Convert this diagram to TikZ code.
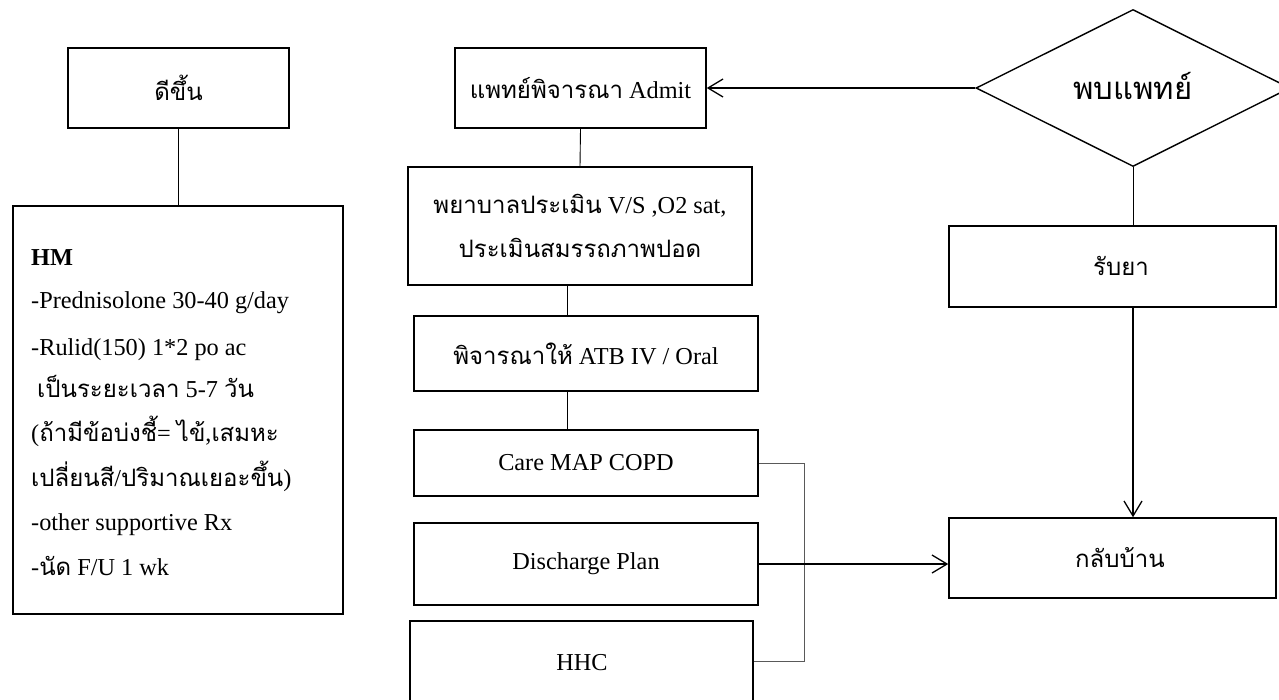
\documentclass[tikz,border=0pt]{standalone}
\usepackage{fontspec}
\setmainfont{Liberation Serif}
\newfontfamily\thfont[Script=Thai]{Loma}
\usetikzlibrary{shapes.geometric,arrows.meta}
\newcommand\Tx[1]{{\thfont\fontsize{24}{30}\selectfont #1}}
\newcommand\TxBig[1]{{\thfont\fontsize{31}{36}\selectfont #1}}
\begin{document}
\begin{tikzpicture}[x=1pt,y=-1pt,
  box/.style={draw,line width=1.5pt,inner sep=0pt,rectangle,align=center},
  conn/.style={line width=0.9pt},
  arr/.style={line width=1.3pt,-{Straight Barb[length=15pt,width=18pt,line width=1.3pt]}},
  brk/.style={line width=0.9pt,draw=black!65},
  every node/.style={font=\fontsize{24.3}{29}\selectfont},
  hm/.style={anchor=base west,inner sep=0pt}]
\path[use as bounding box] (0,0) rectangle (1279,699);
\clip (0,0) rectangle (1279,699);
\fill[white] (0,0) rectangle (1279,699);
% left column
\node[box,minimum width=221pt,minimum height=80pt] (better) at (178.5,88) {\Tx{ดีขึ้น}};
\node[box,minimum width=330pt,minimum height=408pt] (hmbox) at (178,410) {};
\node[hm] (l1) at (31,265) {\textbf{HM}};
\node[hm] (l2) at (31,308) {-Prednisolone 30-40 g/day};
\node[hm] (l3) at (31,355) {-Rulid(150) 1*2 po ac};
\node[hm] (l4) at (37,397) {\Tx{เป็นระยะเวลา} 5-7 \Tx{วัน}};
\node[hm] (l5) at (31,441) {(\Tx{ถ้ามีข้อบ่งชี้}= \Tx{ไข้},\Tx{เสมหะ}};
\node[hm] (l6) at (31,486) {\Tx{เปลี่ยนสี}/\Tx{ปริมาณเยอะขึ้น})};
\node[hm] (l7) at (31,530) {-other supportive Rx};
\node[hm] (l8) at (31,575) {-\Tx{นัด} F/U 1 wk};
\draw[conn] (better.south) -- (better.south |- hmbox.north);
% middle column
\node[box,minimum width=251pt,minimum height=80pt] (admit) at (580.5,88) {\Tx{แพทย์พิจารณา} Admit};
\node[box,minimum width=344pt,minimum height=118pt] (nurse) at (580,226) {};
\node[anchor=base,inner sep=0pt] (n1) at (580,213) {\Tx{พยาบาลประเมิน} V/S ,O2 sat,};
\node[anchor=base,inner sep=0pt] (n2) at (580,257) {\Tx{ประเมินสมรรถภาพปอด}};
\node[box,minimum width=344pt,minimum height=75pt] (atb) at (586,353.5) {\Tx{พิจารณาให้} ATB IV / Oral};
\node[box,minimum width=344pt,minimum height=66pt] (care) at (586,463) {Care MAP COPD};
\node[box,minimum width=344pt,minimum height=82pt] (dis) at (586,564) {Discharge Plan};
\node[box,minimum width=343pt,minimum height=80pt] (hhc) at (581.5,661) {};
\node[inner sep=0pt] (hhct) at (582,663) {HHC};
\coordinate (ln) at (567,0);
\coordinate (bx) at (804,0);
\draw[conn] (admit.south) -- (nurse.north);
\draw[conn] (nurse.south -| ln) -- (atb.north -| ln);
\draw[conn] (atb.south -| ln) -- (care.north -| ln);
\draw[brk] (care.east) -- (care.east -| bx) -- (hhc.east -| bx) -- (hhc.east);
% right column
\node[draw,line width=1.4pt,shape=diamond,inner sep=0pt,minimum width=314pt,minimum height=157pt] (dia) at (1133,88) {};
\node[inner sep=0pt] (diat) at (1133,86) {\TxBig{พบแพทย์}};
\node[box,minimum width=327pt,minimum height=81pt] (rx) at (1112.5,266.5) {};
\node[inner sep=0pt] (rxt) at (1121,266) {\Tx{รับยา}};
\node[box,minimum width=327pt,minimum height=80pt] (home) at (1112.5,558) {};
\node[inner sep=0pt] (homet) at (1120,558) {\Tx{กลับบ้าน}};
\draw[arr] (dia.west) -- (admit.east);
\draw[conn] (dia.south) -- (dia.south |- rx.north);
\draw[arr] (rx.south -| dia.south) -- (home.north -| dia.south);
\draw[arr] (dis.east) -- (dis.east -| home.west);
\end{tikzpicture}
\end{document}
